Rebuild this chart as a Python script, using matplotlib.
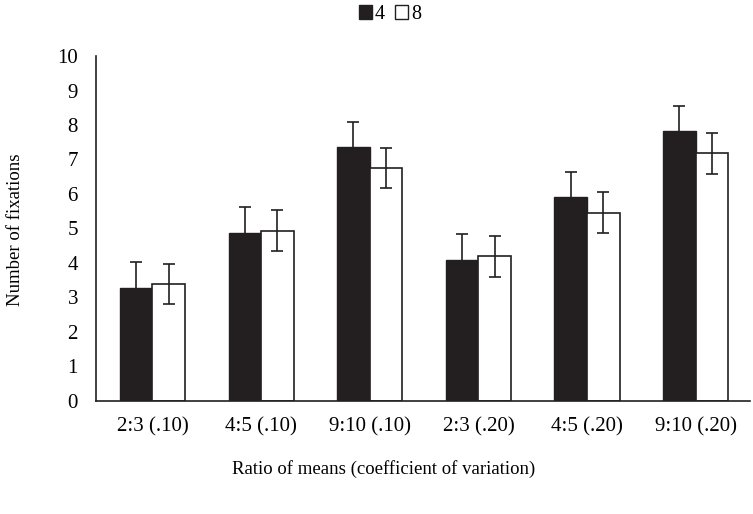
import numpy as np
import matplotlib.pyplot as plt
from matplotlib.patches import Patch

categories = ["2:3 (.10)", "4:5 (.10)", "9:10 (.10)", "2:3 (.20)", "4:5 (.20)", "9:10 (.20)"]
vals_4 = [3.27, 4.86, 7.37, 4.10, 5.92, 7.83]
err_4 = [0.75, 0.76, 0.72, 0.73, 0.71, 0.73]
vals_8 = [3.38, 4.94, 6.76, 4.19, 5.46, 7.18]
err_8 = [0.58, 0.59, 0.58, 0.59, 0.60, 0.60]

ink = "#231f20"
plt.rcParams['font.family'] = ['Liberation Serif', 'DejaVu Serif']

fig = plt.figure(figsize=(7.53, 5.14), dpi=100)
ax = fig.add_axes([0.1275, 0.22, 0.8685, 0.671])

x = np.arange(len(categories))
w = 0.3
errkw = dict(ecolor=ink, elinewidth=1.2, capsize=4, capthick=1.2)
ax.bar(x - w / 2, vals_4, w, color=ink, edgecolor=ink, linewidth=1,
       yerr=err_4, error_kw=errkw, zorder=2)
ax.bar(x + w / 2, vals_8, w, color="white", edgecolor=ink, linewidth=1.2,
       yerr=err_8, error_kw=errkw, zorder=2)

ax.set_xlim(-0.52, 5.5)
ax.set_ylim(0, 10)
ax.set_yticks(range(0, 11))
ax.set_xticks(x)
ax.set_xticklabels(categories)
ax.tick_params(length=0, labelsize=15, colors="black")
ax.tick_params(axis='x', pad=12)
ax.tick_params(axis='y', pad=13)
for s in ["top", "right"]:
    ax.spines[s].set_visible(False)
for s in ["left", "bottom"]:
    ax.spines[s].set_color(ink)
    ax.spines[s].set_linewidth(1.2)

fig.text(0.509, 0.088, "Ratio of means (coefficient of variation)", ha="center",
         va="center", fontsize=13.5)
fig.text(0.02, 0.553, "Number of fixations", rotation=90, ha="center",
         va="center", fontsize=13.5)

handles = [Patch(facecolor=ink, edgecolor=ink, label="4"),
           Patch(facecolor="white", edgecolor=ink, label="8")]
fig.legend(handles=handles, loc="center", bbox_to_anchor=(0.518, 0.972), ncol=2,
           frameon=False, fontsize=14.5, handlelength=0.65, handleheight=0.65,
           handletextpad=0.15, columnspacing=0.5)

fig.savefig("out.png", dpi=100)
